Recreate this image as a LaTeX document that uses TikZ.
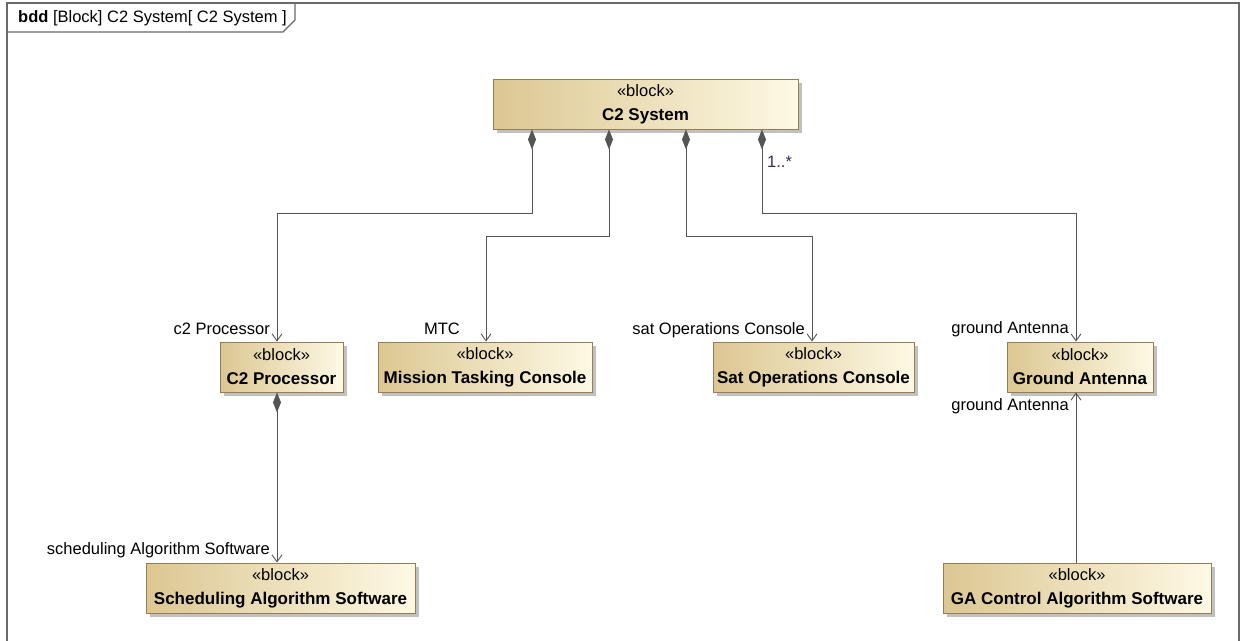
\documentclass[tikz,border=0pt]{standalone}
\usepackage{fontspec}
\setmainfont{Liberation Sans}
\usetikzlibrary{arrows.meta,shadows}
\definecolor{blkborder}{RGB}{150,125,85}
\definecolor{blkleft}{RGB}{220,199,146}
\definecolor{blkright}{RGB}{253,249,228}
\definecolor{linegray}{RGB}{85,85,85}
\definecolor{framegray}{RGB}{105,105,105}
\definecolor{multcol}{RGB}{60,40,85}
\begin{document}
\begin{tikzpicture}[x=1pt,y=-1pt,
  blk/.style={draw=blkborder,line width=0.9pt,left color=blkleft,right color=blkright,
    inner sep=0pt,align=center,font=\fontsize{16.5}{24}\selectfont,
    drop shadow={fill=black!30,opacity=0.8,shadow xshift=4pt,shadow yshift=-4pt}},
  nm/.style={},
  comp/.style={draw=linegray,line width=0.9pt,
    {Diamond[length=20pt,width=8pt,fill=linegray]}-{Straight Barb[length=7pt,width=10pt,line width=0.9pt]}},
  assoc/.style={draw=linegray,line width=0.9pt,-{Straight Barb[length=7pt,width=10pt,line width=0.9pt]}},
  lbl/.style={font=\fontsize{16.5}{19}\selectfont,inner sep=0pt},
]
\newcommand{\bname}[1]{{\fontsize{17}{24}\selectfont\bfseries #1}}
\useasboundingbox (0,0) rectangle (1241,640);
% frame
\draw[framegray,line width=1.6pt] (7,3) rectangle (1239,660);
\draw[framegray,line width=1.2pt] (7,32) -- (283,32) -- (295,20) -- (295,3);
\node[lbl,anchor=base west] (title) at (18,22) {\textbf{bdd} [Block] C2 System[ C2 System ]};

% blocks
\node[blk,minimum width=305pt,minimum height=50pt] (sys) at (645.5,104) {«block»\\\bname{C2 System}};
\node[blk,minimum width=123pt,minimum height=50pt] (proc) at (281.5,367) {«block»\\\bname{C2 Processor}};
\node[blk,minimum width=214pt,minimum height=50pt] (mtc) at (485,367) {«block»\\\bname{Mission Tasking Console}};
\node[blk,minimum width=201pt,minimum height=50pt] (sat) at (813.5,367) {«block»\\\bname{Sat Operations Console}};
\node[blk,minimum width=146pt,minimum height=50pt] (ga) at (1080,367) {«block»\\\bname{Ground Antenna}};
\node[blk,minimum width=269pt,minimum height=50pt] (sched) at (280.5,588) {«block»\\\bname{Scheduling Algorithm Software}};
\node[blk,minimum width=268pt,minimum height=50pt] (gactl) at (1077,588) {«block»\\\bname{GA Control Algorithm Software}};

% bend points
\coordinate (k1a) at (532,213); \coordinate (k1b) at (277,213);
\coordinate (k2a) at (609,236); \coordinate (k2b) at (486,236);
\coordinate (k3a) at (686,236); \coordinate (k3b) at (812,236);
\coordinate (k4a) at (762,213); \coordinate (k4b) at (1076,213);
\coordinate (k5) at (277,480);
\coordinate (k6) at (1076,480);

% connectors
\draw[comp] (sys.south -| k1a) -- (k1a) -- (k1b) -- (proc.north -| k1b);
\draw[comp] (sys.south -| k2a) -- (k2a) -- (k2b) -- (mtc.north -| k2b);
\draw[comp] (sys.south -| k3a) -- (k3a) -- (k3b) -- (sat.north -| k3b);
\draw[comp] (sys.south -| k4a) -- (k4a) -- (k4b) -- (ga.north -| k4b);
\draw[comp] (proc.south -| k5) -- (sched.north -| k5);
\draw[assoc] (gactl.north -| k6) -- (ga.south -| k6);

% labels
\node[lbl,anchor=base west,text=multcol] (m1) at (767,167) {1..*};
\node[lbl,anchor=base east] (l1) at (270,334) {c2 Processor};
\node[lbl,anchor=base east] (l2) at (460,334) {MTC};
\node[lbl,anchor=base east] (l3) at (805,334) {sat Operations Console};
\node[lbl,anchor=base east] (l4) at (1069,333) {ground Antenna};
\node[lbl,anchor=base east] (l5) at (1069,410) {ground Antenna};
\node[lbl,anchor=base east] (l6) at (270,554) {scheduling Algorithm Software};
\end{tikzpicture}
\end{document}
